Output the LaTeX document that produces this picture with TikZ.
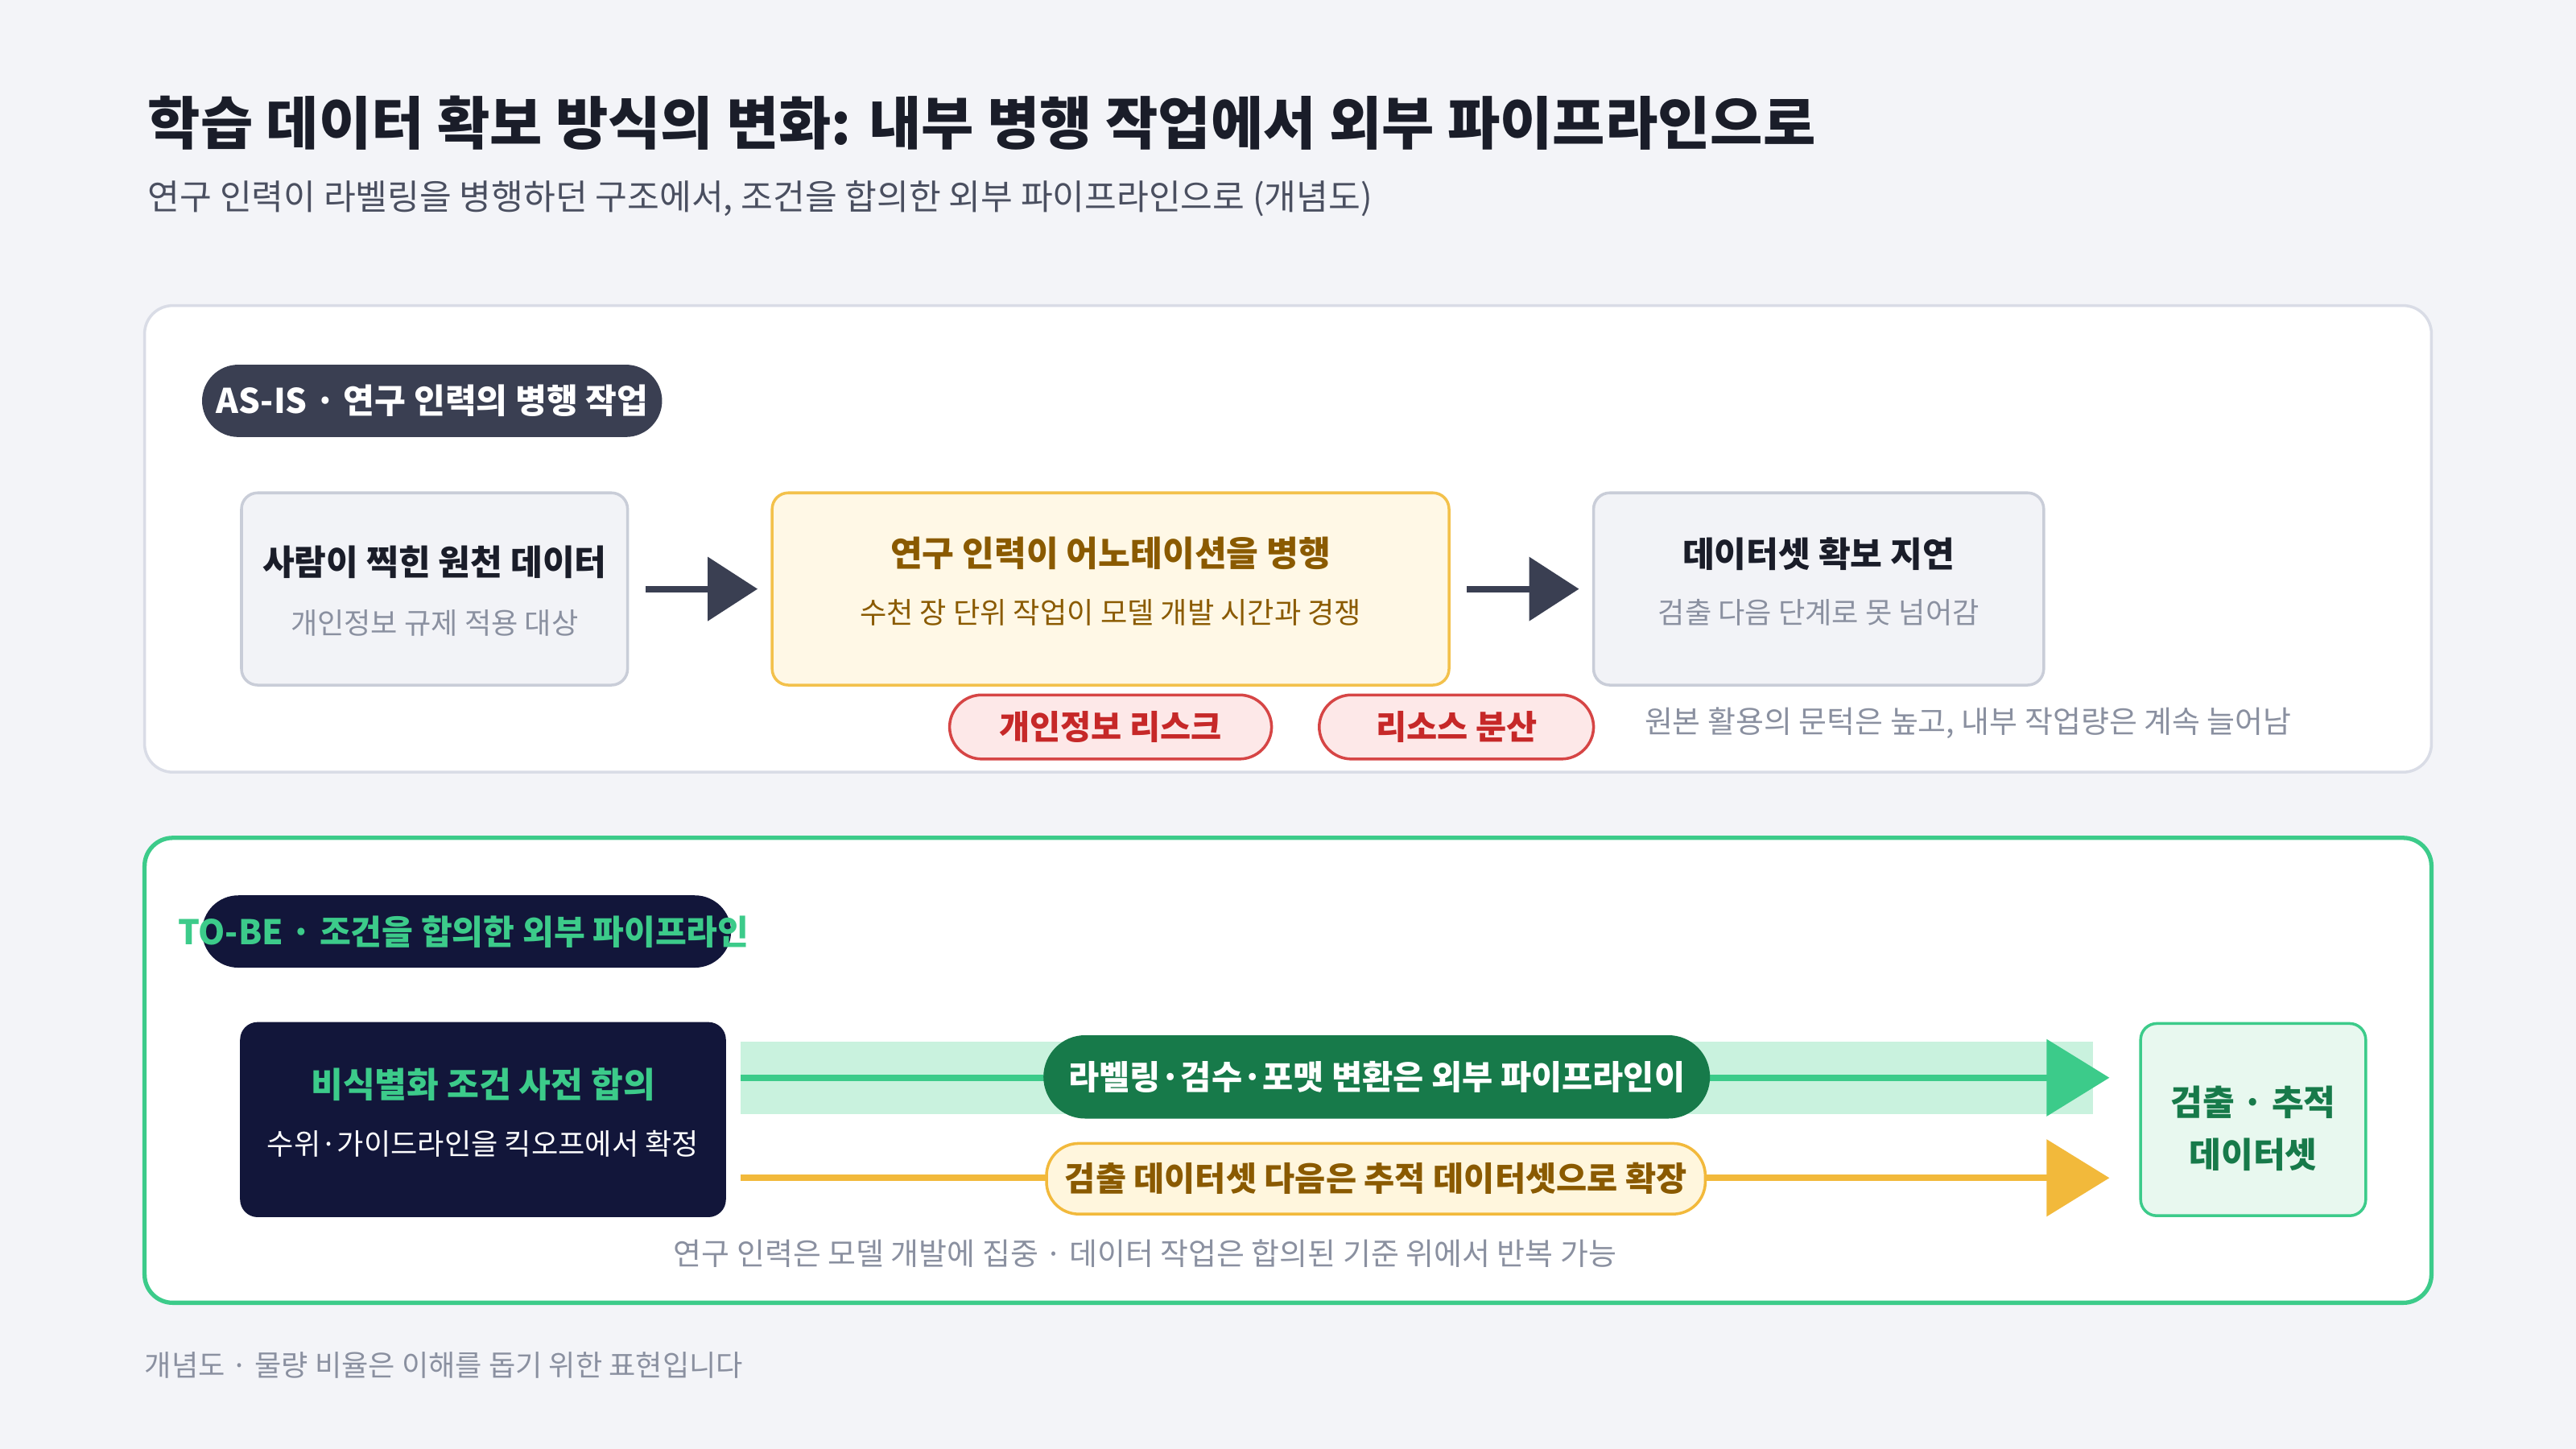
\documentclass[tikz,border=0pt]{standalone}
\usepackage{fontspec}
\setmainfont{Noto Sans CJK KR}
\usetikzlibrary{arrows.meta}
\definecolor{bg}{HTML}{F3F4F8}
\definecolor{ink}{HTML}{1A1D29}
\definecolor{sub}{HTML}{4A4F60}
\definecolor{gry}{HTML}{8A90A0}
\definecolor{pbord}{HTML}{D9DCE6}
\definecolor{bxf}{HTML}{F2F3F7}
\definecolor{bxb}{HTML}{C9CDD8}
\definecolor{slate}{HTML}{3A3F52}
\definecolor{yf}{HTML}{FFF8E6}
\definecolor{yb}{HTML}{F3C14B}
\definecolor{yt}{HTML}{8A5A00}
\definecolor{rf}{HTML}{FDE8E8}
\definecolor{rb}{HTML}{D64545}
\definecolor{rt}{HTML}{C62828}
\definecolor{gr}{HTML}{3CCB8A}
\definecolor{grl}{HTML}{C9F2DE}
\definecolor{grd}{HTML}{177A4A}
\definecolor{grf}{HTML}{E8F8EF}
\definecolor{navy}{HTML}{12163A}
\definecolor{yl}{HTML}{F2B93B}
\definecolor{ylf}{HTML}{FFF6DD}
\tikzset{
 box/.style={draw, rounded corners=0.2cm, line width=1pt, align=center, inner sep=0pt},
 pill/.style={draw, rounded corners=0.4cm, line width=1pt, align=center, font=\bfseries\fontsize{11.8}{14}\selectfont},
 darr/.style={line width=2.3pt, draw=slate, -{Triangle[length=0.62cm,width=0.78cm]}},
 note/.style={anchor=west, text=gry, font=\fontsize{10.8}{13}\selectfont},
}
\begin{document}
\begin{tikzpicture}[x=0.020408cm,y=-0.020408cm]
\fill[bg] (0,0) rectangle (1568,882);
\useasboundingbox (0,0) rectangle (1568,882);
\node[anchor=west, text=ink, font=\bfseries\fontsize{20.2}{24}\selectfont] (title) at (84,75) {학습 데이터 확보 방식의 변화: 내부 병행 작업에서 외부 파이프라인으로};
\node[anchor=west, text=sub, font=\fontsize{12.3}{15}\selectfont] (subt) at (84,121) {연구 인력이 라벨링을 병행하던 구조에서, 조건을 합의한 외부 파이프라인으로 (개념도)};
% AS-IS panel
\draw[fill=white, draw=pbord, line width=1pt, rounded corners=0.35cm] (88,186) rectangle (1480,470);
\node[fill=slate, rounded corners=0.45cm, minimum width=280*0.020408cm, minimum height=44*0.020408cm, text=white, font=\bfseries\fontsize{12}{15}\selectfont] (asis) at (263,244) {AS-IS · 연구 인력의 병행 작업};
\node[box, fill=bxf, draw=bxb, minimum width=235*0.020408cm, minimum height=117*0.020408cm] (b1) at (264.5,358.5) {};
\node[text=ink, font=\bfseries\fontsize{12.3}{15}\selectfont] at (264.5,342) {사람이 찍힌 원천 데이터};
\node[text=gry, font=\fontsize{10.3}{13}\selectfont] at (264.5,379) {개인정보 규제 적용 대상};
\node[box, fill=yf, draw=yb, minimum width=412*0.020408cm, minimum height=117*0.020408cm] (b2) at (676,358.5) {};
\node[text=yt, font=\bfseries\fontsize{12.3}{15}\selectfont] at (676,337) {연구 인력이 어노테이션을 병행};
\node[text=yt, font=\fontsize{10.3}{13}\selectfont] at (676,373) {수천 장 단위 작업이 모델 개발 시간과 경쟁};
\node[box, fill=bxf, draw=bxb, minimum width=274*0.020408cm, minimum height=117*0.020408cm] (b3) at (1107,358.5) {};
\node[text=ink, font=\bfseries\fontsize{12.3}{15}\selectfont] at (1107,337) {데이터셋 확보 지연};
\node[text=gry, font=\fontsize{10.3}{13}\selectfont] at (1107,373) {검출 다음 단계로 못 넘어감};
\draw[darr, shorten <=10*0.020408cm, shorten >=8*0.020408cm] (b1.east) -- (b2.west);
\draw[darr, shorten <=10*0.020408cm, shorten >=8*0.020408cm] (b2.east) -- (b3.west);
\node[pill, fill=rf, draw=rb, text=rt, minimum width=196*0.020408cm, minimum height=39*0.020408cm] (r1) at (676,442.5) {개인정보 리스크};
\node[pill, fill=rf, draw=rb, text=rt, minimum width=167*0.020408cm, minimum height=39*0.020408cm] (r2) at (886.5,442.5) {리소스 분산};
\node[note] (n1) at (995,440) {원본 활용의 문턱은 높고, 내부 작업량은 계속 늘어남};
% TO-BE panel
\draw[fill=white, draw=gr, line width=1.5pt, rounded corners=0.35cm] (88,510) rectangle (1480,793);
\node[fill=navy, rounded corners=0.45cm, minimum width=322*0.020408cm, minimum height=44*0.020408cm] (tobe) at (284,567) {};
\node[anchor=west, text=gr, font=\bfseries\fontsize{12}{15}\selectfont, inner sep=0pt] at (108,567) {TO-BE · 조건을 합의한 외부 파이프라인};
\node[box, fill=navy, draw=navy, minimum width=294*0.020408cm, minimum height=117*0.020408cm] (d1) at (294,681.5) {};
\node[text=gr, font=\bfseries\fontsize{12.3}{15}\selectfont] at (294,660) {비식별화 조건 사전 합의};
\node[text=white, font=\fontsize{10.3}{13}\selectfont] at (294,696) {수위·가이드라인을 킥오프에서 확정};
\node[box, fill=grf, draw=gr, minimum width=137*0.020408cm, minimum height=117*0.020408cm] (res) at (1371.5,681.5) {};
\node[text=grd, font=\bfseries\fontsize{12.3}{15}\selectfont] at (1371.5,671) {검출 · 추적};
\node[text=grd, font=\bfseries\fontsize{12.3}{15}\selectfont] at (1371.5,703) {데이터셋};
\fill[grl] (451,634) rectangle (1274,678);
\coordinate (g0) at (451,656);
\coordinate (g1) at (1284,656);
\coordinate (y0) at (451,717);
\coordinate (y1) at (1284,717);
\draw[line width=2.3pt, draw=gr, -{Triangle[length=0.78cm,width=0.94cm]}] (g0) -- (g1);
\draw[line width=2.3pt, draw=yl, -{Triangle[length=0.78cm,width=0.94cm]}] (y0) -- (y1);
\node[pill, fill=grd, draw=grd, text=white, minimum width=404*0.020408cm, minimum height=49*0.020408cm, rounded corners=0.5cm] (p1) at (838,655.5) {라벨링·검수·포맷 변환은 외부 파이프라인이};
\node[pill, fill=ylf, draw=yl, text=yt, minimum width=401*0.020408cm, minimum height=43*0.020408cm] (p2) at (837.5,717.5) {검출 데이터셋 다음은 추적 데이터셋으로 확장};
\node[text=gry, font=\fontsize{10.8}{13}\selectfont] (n2) at (697,763) {연구 인력은 모델 개발에 집중 · 데이터 작업은 합의된 기준 위에서 반복 가능};
\node[note, font=\fontsize{10.3}{13}\selectfont] (foot) at (82,831) {개념도 · 물량 비율은 이해를 돕기 위한 표현입니다};
\end{tikzpicture}
\end{document}
